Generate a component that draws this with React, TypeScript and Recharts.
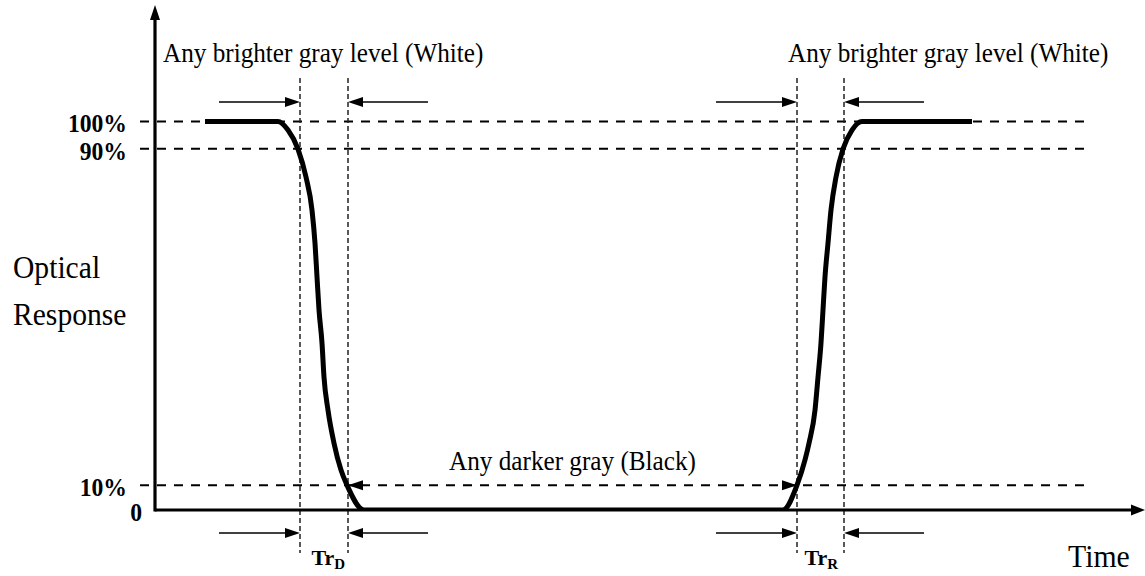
import React from 'react';
import { ComposedChart, Line, XAxis, YAxis, ReferenceLine, ReferenceDot } from 'recharts';

// Optical response curve (time in arbitrary units, response in schematic units)
const TIME = [10, 24.6, 26.6, 28.6, 30.2, 31.4, 32, 32.4, 32.8, 33.4, 33.8, 34.6, 35.8, 37.2, 38.4, 41.8,
  125.6, 128.4, 130, 130.8, 132, 132.6, 133.2, 133.6, 134, 134.6, 135.2, 136.2, 137.6, 139.4, 141.4, 163.4];
const RESPONSE = [100, 100, 97.8, 92.9, 85.7, 77.2, 68.7, 60, 51.5, 43, 34.2, 25.7, 17.2, 10.3, 6.4, 0,
  0, 6.4, 12.9, 17.2, 25.7, 34.2, 43, 51.5, 60, 68.7, 77.2, 85.7, 92.9, 97.8, 100, 100];

// y levels and their labels
const LEVEL_VALUES = [0, 6.4, 93, 100];
const LEVEL_LABELS = ['0', '10%', '90%', '100%'];

// transition edges (x)
const EDGE_X = [29, 38.6, 128.4, 137.8];

const X_DOMAIN: [number, number] = [0, 198];
const Y_DOMAIN: [number, number] = [0, 130];

const data = TIME.map((t, i) => ({ t, v: RESPONSE[i] }));

const FONT = '"Liberation Serif", "Times New Roman", serif';

type ArrowOpts = { head?: number; half?: number; start?: boolean; end?: boolean; width?: number; showLine?: boolean; cap?: string };

const arrowShape = (o: ArrowOpts) => (p: any) => {
  const { x1, y1, x2, y2 } = p;
  const L = o.head ?? 15;
  const W = o.half ?? 5;
  const dx = x2 - x1;
  const dy = y2 - y1;
  const len = Math.sqrt(dx * dx + dy * dy) || 1;
  const ux = dx / len;
  const uy = dy / len;
  const head = (tx: number, ty: number, sx: number, sy: number) => {
    const bx = tx - sx * L;
    const by = ty - sy * L;
    return `${tx},${ty} ${bx - sy * W},${by + sx * W} ${bx + sy * W},${by - sx * W}`;
  };
  const lx1 = o.start ? x1 + ux * (L - 2) : x1;
  const ly1 = o.start ? y1 + uy * (L - 2) : y1;
  const lx2 = o.end !== false ? x2 - ux * (L - 2) : x2;
  const ly2 = o.end !== false ? y2 - uy * (L - 2) : y2;
  return (
    <g>
      {o.showLine !== false && (
        <line x1={lx1} y1={ly1} x2={lx2} y2={ly2} stroke="#000" strokeWidth={o.width ?? 1.5}
          strokeLinecap={(o.cap as any) ?? 'butt'} />
      )}
      {o.end !== false && <polygon points={head(x2, y2, ux, uy)} fill="#000" />}
      {o.start && <polygon points={head(x1, y1, -ux, -uy)} fill="#000" />}
    </g>
  );
};

type TextOpts = { size: number; bold?: boolean; sx?: number; anchor?: 'start' | 'middle' | 'end' };
const textShape = (text: string, o: TextOpts, sub?: string) => (p: any) => (
  <text
    transform={`translate(${p.cx},${p.cy}) scale(${o.sx ?? 1},1)`}
    x={0}
    y={0}
    fontFamily={FONT}
    fontSize={o.size}
    fontWeight={o.bold ? 'bold' : 'normal'}
    textAnchor={o.anchor ?? 'start'}
    fill="#000"
  >
    {text}
    {sub && (
      <tspan fontSize={o.size * 0.68} dy={4}>
        {sub}
      </tspan>
    )}
  </text>
);

const LevelTick = (props: any) => {
  const { x, y, payload } = props;
  const idx = LEVEL_VALUES.indexOf(payload.value);
  const label = LEVEL_LABELS[idx] ?? '';
  const shift = payload.value === 0 ? 15 : 0;
  return (
    <text
      transform={`translate(${x + shift},${y + 2}) scale(0.91,1)`}
      x={0}
      y={0}
      textAnchor="end"
      dominantBaseline="central"
      fontFamily={FONT}
      fontSize={26}
      fontWeight="bold"
      fill="#000"
    >
      {label}
    </text>
  );
};

// small arrows: [fromX, toX, y]
const SMALL_ARROWS: [number, number, number][] = [
  [12.8, 29, 105],
  [54.6, 38.6, 105],
  [112.2, 128.4, 105],
  [153.8, 137.8, 105],
  [12.8, 29, -5.9],
  [54.6, 38.6, -5.9],
  [112.2, 128.4, -5.9],
  [153.8, 137.8, -5.9],
];

const ANNOTATIONS: { x: number; y: number; text: string; o: TextOpts; sub?: string }[] = [
  { x: 1.6, y: 115.4, text: 'Any brighter gray level (White)', o: { size: 28, sx: 0.9 } },
  { x: 126.6, y: 115.4, text: 'Any brighter gray level (White)', o: { size: 28, sx: 0.9 } },
  { x: 83.5, y: 10.3, text: 'Any darker gray (Black)', o: { size: 28, sx: 0.9, anchor: 'middle' } },
  { x: -28.4, y: 59.7, text: 'Optical', o: { size: 31, sx: 0.955 } },
  { x: -28.4, y: 47.6, text: 'Response', o: { size: 31, sx: 0.955 } },
  { x: 182.6, y: -14.7, text: 'Time', o: { size: 31, sx: 0.96 } },
  { x: 31.3, y: -14.2, text: 'Tr', o: { size: 22, bold: true }, sub: 'D' },
  { x: 129.9, y: -14.2, text: 'Tr', o: { size: 22, bold: true }, sub: 'R' },
];

export default function App() {
  return (
    <div style={{ position: 'absolute', left: 0, top: 0, width: 1145, height: 576, background: '#fff' }}>
      <ComposedChart width={1145} height={576} data={data} margin={{ top: 5, right: 0, bottom: 66, left: 0 }}>
        <XAxis type="number" dataKey="t" domain={X_DOMAIN} hide allowDataOverflow />
        <YAxis
          type="number"
          domain={Y_DOMAIN}
          ticks={LEVEL_VALUES}
          interval={0}
          width={155}
          axisLine={false}
          tickLine={false}
          tickSize={0}
          tickMargin={28}
          tick={<LevelTick />}
          allowDataOverflow
        />

        {/* horizontal dashed level lines */}
        {LEVEL_VALUES.filter((v) => v > 0).map((v) => (
          <ReferenceLine
            key={`h${v}`}
            segment={[{ x: -3, y: v }, { x: 185.8, y: v }]}
            stroke="#000"
            strokeWidth={2}
            strokeDasharray="9 8"
            ifOverflow="visible"
          />
        ))}

        {/* vertical dashed edge lines */}
        {EDGE_X.map((x) => (
          <ReferenceLine
            key={`v${x}`}
            segment={[{ x, y: 111.2 }, { x, y: -11.1 }]}
            stroke="#222"
            strokeWidth={1.5}
            strokeDasharray="5 3"
            ifOverflow="visible"
          />
        ))}

        {/* axes with arrows */}
        <ReferenceLine
          segment={[{ x: 0, y: 0 }, { x: 0, y: 130 }]}
          ifOverflow="visible"
          shape={arrowShape({ head: 15, half: 5, width: 3.2, cap: 'square' })}
        />
        <ReferenceLine
          segment={[{ x: 0, y: 0 }, { x: 198, y: 0 }]}
          ifOverflow="visible"
          shape={arrowShape({ head: 14, half: 5.5, width: 3.2 })}
        />

        {/* small edge arrows */}
        {SMALL_ARROWS.map(([a, b, y], i) => (
          <ReferenceLine
            key={`a${i}`}
            segment={[{ x: a, y }, { x: b, y }]}
            ifOverflow="visible"
            shape={arrowShape({ head: 15, half: 5, width: 1.5 })}
          />
        ))}

        {/* double arrow for black level span */}
        <ReferenceLine
          segment={[{ x: EDGE_X[1], y: LEVEL_VALUES[1] }, { x: EDGE_X[2], y: LEVEL_VALUES[1] }]}
          ifOverflow="visible"
          shape={arrowShape({ head: 15, half: 5, start: true, showLine: false })}
        />

        <Line
          dataKey="v"
          type="monotone"
          stroke="#000"
          strokeWidth={5}
          dot={false}
          activeDot={false}
          isAnimationActive={false}
        />

        {ANNOTATIONS.map((a, i) => (
          <ReferenceDot
            key={`t${i}`}
            x={a.x}
            y={a.y}
            r={0}
            ifOverflow="visible"
            shape={textShape(a.text, a.o, a.sub)}
          />
        ))}
      </ComposedChart>
    </div>
  );
}
